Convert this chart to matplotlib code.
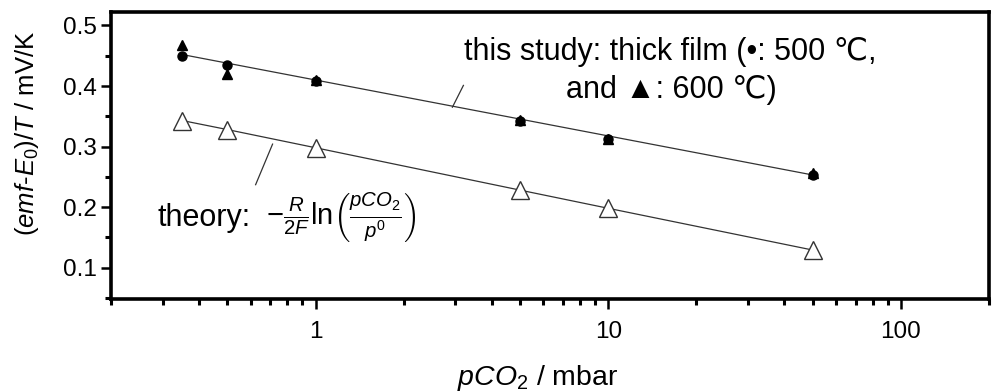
import matplotlib
matplotlib.use("Agg")
import matplotlib.pyplot as plt
from matplotlib.ticker import FixedLocator, NullFormatter, FixedFormatter, MultipleLocator

plt.rcParams['font.family'] = ['Liberation Sans', 'DejaVu Sans']
plt.rcParams['mathtext.fontset'] = 'custom'
plt.rcParams['mathtext.rm'] = 'Liberation Sans'
plt.rcParams['mathtext.it'] = 'Liberation Sans:italic'
plt.rcParams['mathtext.bf'] = 'Liberation Sans:bold'

# data (pCO2 in mbar, values in mV/K)
p_co2 = [0.35, 0.5, 1, 5, 10, 50]
film_500 = [0.450, 0.434, 0.408, 0.342, 0.312, 0.253]
film_600 = [0.468, 0.420, 0.410, 0.344, 0.313, 0.257]
theory = [0.343, 0.328, 0.298, 0.228, 0.198, 0.129]
fit_x = [0.35, 50]
fit_y = [0.452, 0.253]

fig = plt.figure(figsize=(10, 3.92), dpi=100)
ax = fig.add_axes([0.111, 0.237, 0.878, 0.732])

ax.plot(fit_x, fit_y, color='#333333', lw=0.9, zorder=1)
ax.plot(p_co2, theory, color='#333333', lw=0.9, zorder=1)
ax.plot(p_co2, film_600, ls='none', marker='^', ms=6.5, color='black', zorder=3)
ax.plot(p_co2, film_500, ls='none', marker='o', ms=6.5, color='black', zorder=3)
ax.plot(p_co2, theory, ls='none', marker='^', ms=13, mfc='white', mec='#333333',
        mew=1.0, zorder=3)

ax.set_xscale('log')
ax.set_xlim(0.2, 200)
ax.set_ylim(0.048, 0.522)

ax.xaxis.set_major_locator(FixedLocator([1, 10, 100]))
ax.xaxis.set_major_formatter(FixedFormatter(['1', '10', '100']))
ax.xaxis.set_minor_locator(FixedLocator([k * d for d in [0.1, 1, 10, 100] for k in range(2, 10)]))
ax.xaxis.set_minor_formatter(NullFormatter())
ax.yaxis.set_major_locator(MultipleLocator(0.1))
ax.yaxis.set_minor_locator(MultipleLocator(0.05))

for s in ax.spines.values():
    s.set_linewidth(2.6)
ax.tick_params(which='major', direction='out', length=7, width=1.8, labelsize=17.5, pad=3)
ax.tick_params(which='minor', direction='out', length=4, width=2.2)
ax.tick_params(axis='x', which='major', pad=9)

fig.text(0.538, 0.036, r'$pCO_2$ / mbar', fontsize=20.5, ha='center', va='center')
fig.text(0.027, 0.66, r'($emf$-$E_0$)/$T$ / mV/K', fontsize=18.5, rotation=90,
         ha='center', va='center')

ax.text(0.637, 0.861, 'this study: thick film (\u2022: 500 \u2103,', transform=ax.transAxes,
        fontsize=22, ha='center', va='center')
ax.text(0.638, 0.728, 'and \u25B2: 600 \u2103)', transform=ax.transAxes,
        fontsize=22, ha='center', va='center')
ax.plot([3.2, 2.935], [0.401, 0.365], color='#333333', lw=0.9)

ax.text(0.053, 0.282, 'theory:', transform=ax.transAxes, fontsize=22,
        ha='left', va='center')
ax.text(0.176, 0.282, r'$-\frac{R}{2F}\mathrm{ln}\left(\frac{pCO_2}{p^0}\right)$',
        transform=ax.transAxes, fontsize=21, ha='left', va='center')
ax.plot([0.713, 0.624], [0.304, 0.237], color='#333333', lw=0.9)

fig.savefig('out.png', dpi=100)
